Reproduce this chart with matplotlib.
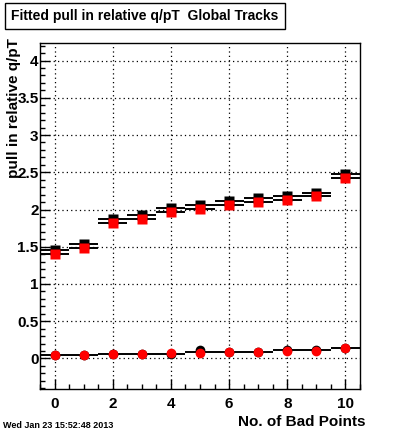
import numpy as np
import matplotlib
matplotlib.use('Agg')
import matplotlib.pyplot as plt
from matplotlib.ticker import MultipleLocator

plt.rcParams['font.family'] = ['Liberation Sans', 'DejaVu Sans']
plt.rcParams['font.weight'] = 'bold'

# bad points (bin centres)
bad_points = np.arange(11)

# upper pair of histograms (black / red)
upper_black = [1.455, 1.535, 1.872, 1.925, 2.015, 2.059, 2.109, 2.149, 2.176, 2.216, 2.471]
upper_red = [1.397, 1.478, 1.813, 1.867, 1.961, 2.001, 2.055, 2.095, 2.122, 2.176, 2.418]

# lower pair (black line / red points)
lower_black = [0.040, 0.040, 0.058, 0.058, 0.062, 0.111, 0.089, 0.089, 0.111, 0.116, 0.134]
lower_line = [0.040, 0.040, 0.058, 0.058, 0.062, 0.081, 0.089, 0.089, 0.111, 0.116, 0.134]
lower_red = [0.044, 0.044, 0.058, 0.058, 0.067, 0.071, 0.081, 0.081, 0.094, 0.107, 0.138]

title = 'Fitted pull in relative q/pT  Global Tracks'
x_label = 'No. of Bad Points'
y_label = 'pull in relative q/pT'
date_text = 'Wed Jan 23 15:52:48 2013'

fig = plt.figure(figsize=(4.0, 4.33), dpi=100)
ax = fig.add_axes([0.1, 0.1016, 0.8, 0.799])

x = np.array(bad_points)
lo = x - 0.5
hi = x + 0.5

# histogram bin lines
ax.hlines(upper_black, lo, hi, colors='black', lw=1.4, zorder=3)
ax.hlines(upper_red, lo, hi, colors='black', lw=1.4, zorder=3)
ax.hlines(lower_line, lo, hi, colors='black', lw=1.4, zorder=3)

# markers
ax.plot(x, upper_black, 's', color='black', ms=7, mec='none', zorder=4)
ax.plot(x, upper_red, 's', color='red', ms=7, mec='none', zorder=5)
ax.plot(x, lower_black, 'o', color='black', ms=7, mec='none', zorder=4)
ax.plot(x, lower_red, 'o', color='red', ms=7, mec='none', zorder=5)

ax.set_xlim(-0.5, 10.5)
ax.set_ylim(-0.41, 4.235)

ax.xaxis.set_major_locator(MultipleLocator(2))
ax.xaxis.set_minor_locator(MultipleLocator(0.5))
ax.yaxis.set_major_locator(MultipleLocator(0.5))
ax.yaxis.set_minor_locator(MultipleLocator(0.1))

ax.tick_params(which='both', direction='in', top=False, right=False, width=1)
ax.tick_params(which='major', length=7, labelsize=11)
ax.tick_params(axis='y', which='major', pad=1)
ax.tick_params(axis='x', which='major', pad=6)
ax.tick_params(which='minor', length=3.6)

ax.yaxis.set_major_formatter(plt.FuncFormatter(lambda v, p: ('%g' % v)))

ax.grid(True, which='major', color='black', linestyle=(0, (1, 2.5)), lw=0.9)
for s in ax.spines.values():
    s.set_linewidth(1)

fig.text(0.915, 0.025, x_label, ha='right', va='center', fontsize=11, fontweight='bold')
fig.text(0.036, 0.912, y_label, ha='center', va='top', rotation=90, fontsize=11, fontweight='bold')

fig.text(0.0275, 0.9625, title, ha='left', va='center', fontsize=10, fontweight='bold',
         bbox=dict(boxstyle='square,pad=0.45', fc='white', ec='black', lw=1))

fig.text(0.008, 0.018, date_text, ha='left', va='center', fontsize=6.5, fontweight='bold')

fig.savefig('out.png', dpi=100)
